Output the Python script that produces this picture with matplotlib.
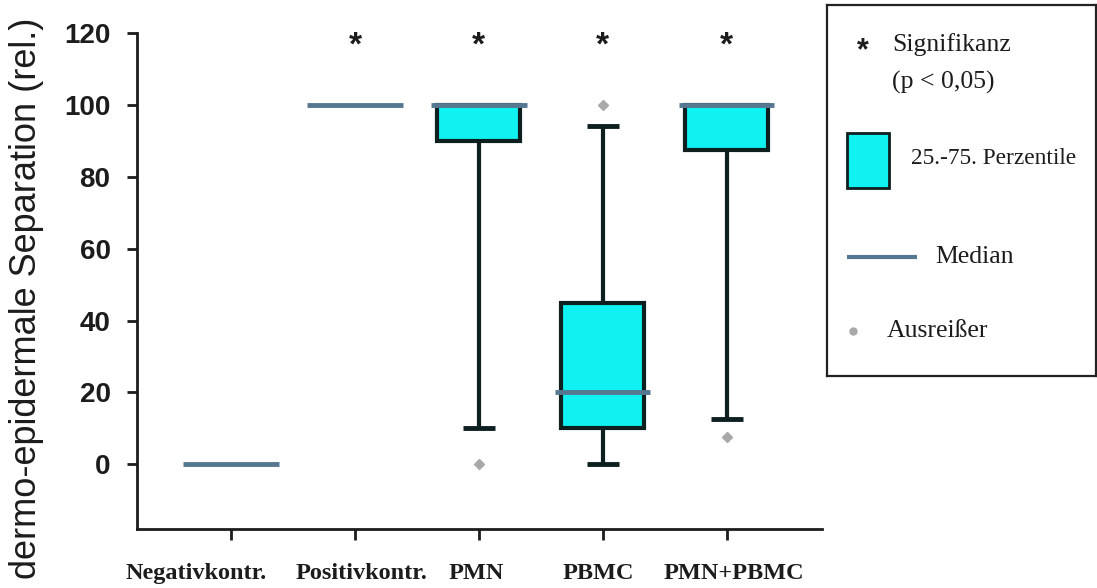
import matplotlib
matplotlib.use("Agg")
import matplotlib.pyplot as plt
from matplotlib.patches import Rectangle

# group summaries (rel. separation, %)
groups = ["Negativkontr.", "Positivkontr.", "PMN", "PBMC", "PMN+PBMC"]
q1 = [0, 100, 90, 10, 87.5]
median = [0, 100, 100, 20, 100]
q3 = [0, 100, 100, 45, 100]
whis_lo = [0, 100, 10, 0, 12.5]
whis_hi = [0, 100, 100, 94, 100]
outliers = [[], [], [0], [100], [7.5]]
significant = [False, True, True, True, True]

FILL = "#10F2F2"
EDGE = "#0d1f1f"
MED = "#557890"
OUT_C = "#a9a9a9"
TXT = "#1c1c1c"

W, H = 1097, 588
fig = plt.figure(figsize=(W / 100, H / 100), dpi=100)
ax = fig.add_axes([137 / W, (H - 529) / H, (822 - 137) / W, (529 - 33) / H])

pos = list(range(1, len(groups) + 1))
box_w, med_w, cap_w = 0.67, 0.77, 0.26

for x, a, m, b, lo, hi, outs in zip(pos, q1, median, q3, whis_lo, whis_hi, outliers):
    if b > a:
        ax.add_patch(Rectangle((x - box_w / 2, a), box_w, b - a, facecolor=FILL,
                               edgecolor=EDGE, lw=3, zorder=2))
    if lo < a:
        ax.plot([x, x], [lo, a], color=EDGE, lw=3, zorder=1, solid_capstyle="butt")
        ax.plot([x - cap_w / 2, x + cap_w / 2], [lo, lo], color=EDGE, lw=3.5,
                zorder=1, solid_capstyle="butt")
    if hi > b:
        ax.plot([x, x], [b, hi], color=EDGE, lw=3, zorder=1, solid_capstyle="butt")
        ax.plot([x - cap_w / 2, x + cap_w / 2], [hi, hi], color=EDGE, lw=3.5,
                zorder=1, solid_capstyle="butt")
    ax.plot([x - med_w / 2, x + med_w / 2], [m, m], color=MED, lw=3.5, zorder=3,
            solid_capstyle="butt")
    for o in outs:
        ax.plot(x, o, marker="D", ms=5.5, color=OUT_C, mec=OUT_C, zorder=3)

for x, s in zip(pos, significant):
    if s:
        ax.text(x, 116.5, "*", ha="center", va="center", fontsize=24,
                fontweight="bold", family="Liberation Sans", color=TXT)

ax.set_xlim(0.24, 5.77)
ax.set_ylim(-18, 120)
ax.set_yticks([0, 20, 40, 60, 80, 100, 120])
ax.set_xticks(pos)
ax.set_xticklabels([])
for lab in ax.get_yticklabels():
    lab.set_fontfamily("Liberation Sans")
    lab.set_fontweight("bold")
    lab.set_fontsize(20)
    lab.set_color(TXT)
ax.tick_params(axis="y", length=7, width=2, pad=12, colors=TXT)
ax.tick_params(axis="x", length=8, width=2, colors=TXT)
for side in ("top", "right"):
    ax.spines[side].set_visible(False)
for side in ("left", "bottom"):
    ax.spines[side].set_linewidth(2)
    ax.spines[side].set_color(TXT)

# category labels sit a little off their ticks
label_x = [0.72, 2.05, 2.98, 3.96, 5.06]
for x, g in zip(label_x, groups):
    ax.text(x, -30.5, g, ha="center", va="center", fontsize=17.5, fontweight="bold",
            family="Liberation Serif", color=TXT)

fig.text(27 / W, 1 - 298 / H, "dermo-epidermale Separation (rel.)", rotation=90,
         ha="center", va="center", fontsize=26, family="Liberation Sans", color=TXT)

# hand-built key, laid out in pixel units
lg = fig.add_axes([827 / W, (H - 376) / H, (1096 - 827) / W, (376 - 5) / H])
lg.set_xlim(827, 1096)
lg.set_ylim(376, 5)
lg.set_xticks([])
lg.set_yticks([])
for sp in lg.spines.values():
    sp.set_linewidth(1.6)
    sp.set_color("#222222")
serif = dict(family="Liberation Serif", fontsize=18.5, color=TXT, va="center", ha="left")
lg.text(863, 51, "*", ha="center", va="center", fontsize=22, fontweight="bold",
        family="Liberation Sans", color=TXT)
lg.text(892, 45, "Signifikanz", **serif)
lg.text(892, 82, "(p < 0,05)", **serif)
lg.add_patch(Rectangle((847, 133), 42, 55, facecolor=FILL, edgecolor=EDGE, lw=2))
lg.text(911, 158, "25.-75. Perzentile", **{**serif, "fontsize": 16.8})
lg.plot([847, 917], [257, 257], color=MED, lw=3, solid_capstyle="butt")
lg.text(935, 257, "Median", **serif)
lg.plot(853, 331, marker="o", ms=5, color=OUT_C)
lg.text(887, 331, "Ausreißer", **serif)

fig.savefig("out.png", dpi=100)
